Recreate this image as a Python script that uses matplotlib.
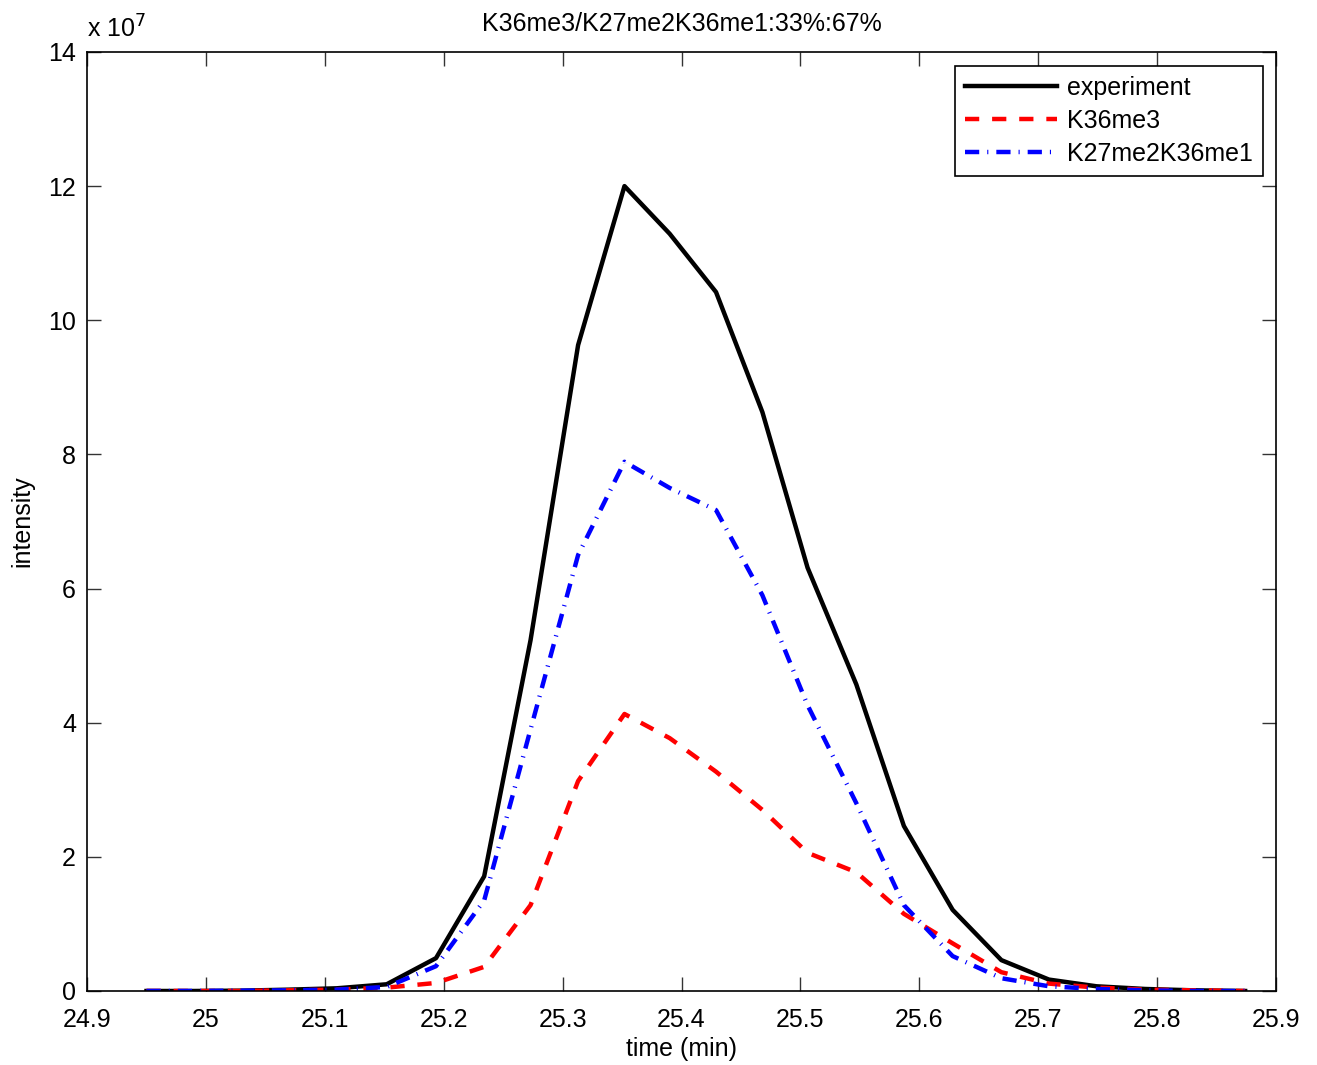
import numpy as np
import matplotlib
matplotlib.use("Agg")
import matplotlib.pyplot as plt
from matplotlib.ticker import FuncFormatter

plt.rcParams['font.family'] = ['Liberation Sans', 'DejaVu Sans']

# retention time (min)
t = [24.95, 24.99, 25.03, 25.07, 25.11, 25.152, 25.1935, 25.234, 25.273, 25.313,
     25.352, 25.390, 25.429, 25.468, 25.506, 25.547, 25.587, 25.628, 25.669,
     25.709, 25.749, 25.79, 25.83, 25.874]

# intensities in units of 1e7
experiment = [0.0, 0.0, 0.005, 0.02, 0.04, 0.1, 0.49, 1.71, 5.23, 9.63,
              12.0, 11.29, 10.42, 8.63, 6.31, 4.57, 2.46, 1.21, 0.46,
              0.17, 0.07, 0.03, 0.01, 0.0]
k36me3 = [0.0, 0.0, 0.0, 0.01, 0.02, 0.05, 0.12, 0.36, 1.28, 3.13,
          4.13, 3.77, 3.27, 2.7, 2.06, 1.77, 1.15, 0.71, 0.28,
          0.11, 0.05, 0.02, 0.01, 0.0]
k27me2k36me1 = [0.0, 0.0, 0.005, 0.01, 0.02, 0.06, 0.37, 1.35, 3.9, 6.5,
                7.89, 7.5, 7.17, 5.9, 4.26, 2.8, 1.28, 0.52, 0.19,
                0.07, 0.03, 0.01, 0.0, 0.0]

scale = 1e7
fs = 18

fig = plt.figure(figsize=(13.17, 10.65), dpi=100)
ax = fig.add_axes([0.0661, 0.0695, 0.9028, 0.8817])

ax.plot(t, np.array(experiment) * scale, color='black', lw=3.2, label='experiment')
ax.plot(t, np.array(k36me3) * scale, color='red', lw=3.2, linestyle=(0, (3.2, 2.9)),
        label='K36me3')
ax.plot(t, np.array(k27me2k36me1) * scale, color='blue', lw=3.2,
        linestyle=(0, (3.2, 1.8, 0.25, 1.8)), label='K27me2K36me1')

ax.set_xlim(24.9, 25.9)
ax.set_ylim(0, 14e7)
ax.set_xticks(np.arange(24.9, 25.91, 0.1))
ax.set_yticks(np.arange(0, 14.1, 2) * scale)
ax.xaxis.set_major_formatter(FuncFormatter(lambda v, p: ('%.1f' % v).rstrip('0').rstrip('.')))
ax.yaxis.set_major_formatter(FuncFormatter(lambda v, p: '%d' % round(v / scale)))
ax.tick_params(direction='in', length=10, width=1, top=True, right=True,
               labelsize=fs, color='#333333')
ax.tick_params(axis='x', pad=12)
ax.tick_params(axis='y', pad=8)
for s in ax.spines.values():
    s.set_linewidth(1.2)

ax.text(0.0, 1.01, r'x 10$^7$', transform=ax.transAxes, fontsize=fs,
        ha='left', va='bottom')
ax.set_title('K36me3/K27me2K36me1:33%:67%', fontsize=fs, pad=15)
ax.set_xlabel('time (min)', fontsize=fs, labelpad=4)
ax.set_ylabel('intensity', fontsize=fs, va='center')
ax.yaxis.set_label_coords(-0.054, 0.5)

leg = ax.legend(loc='upper right', fontsize=fs, handlelength=3.7, handletextpad=0.4,
                borderpad=0.4, labelspacing=0.35, fancybox=False, framealpha=1,
                edgecolor='black', borderaxespad=0, bbox_to_anchor=(0.989, 0.985))
leg.get_frame().set_linewidth(1.2)

fig.savefig('out.png', dpi=100)
